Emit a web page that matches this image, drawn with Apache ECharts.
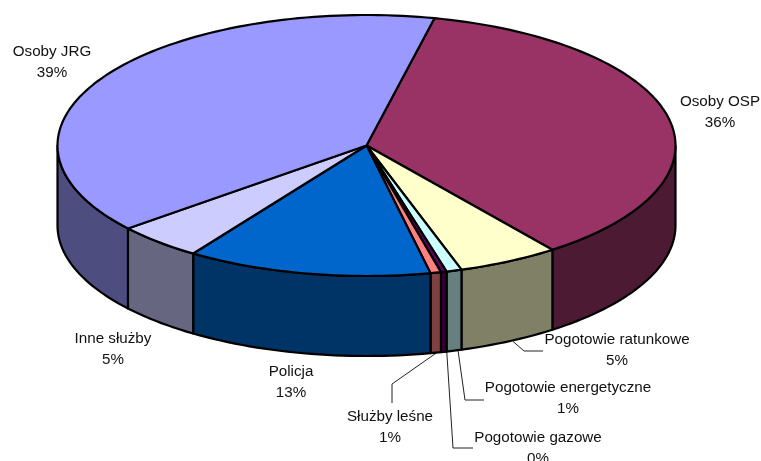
<!DOCTYPE html>
<html>
<head>
<meta charset="utf-8">
<style>html,body{margin:0;padding:0;background:#fff}#c{width:761px;height:461px}</style>
<script src="https://cdn.jsdelivr.net/npm/echarts@6/dist/echarts.min.js"></script>
</head>
<body>
<div id="c"></div>
<script>
// Data, clockwise from the start angle
const categories = ['Osoby OSP','Pogotowie ratunkowe','Pogotowie energetyczne','Pogotowie gazowe','Służby leśne','Policja','Inne służby','Osoby JRG'];
const values = [36.2, 5.3, 0.8, 0.3, 0.55, 12.8, 4.56, 39.49];
const topColors = ['#993366','#FFFFCC','#CCFFFF','#660066','#FF8080','#0066CC','#CCCCFF','#9999FF'];
const wallColors = ['#4D1A33','#808066','#668080','#330033','#804040','#003366','#666680','#4D4D80'];

// Layout
const CX = 366.5, CY = 145.5, RX = 309, RY = 130.5, DEPTH = 80, START = 12.7;
const FONT = '"Liberation Sans", Arial, sans-serif';
const labelPos = [[720,112],[617,350],[568,398],[538,448],[390,427],[291,382],[113,349],[52,62]];
const leaderStartShift = [0,4,4,3,1,0,0,0];
const leaders = [null,[[524,351],[543,351]],[[465,400],[484,400]],[[453,448],[473,448]],[[392,384],[392,403]],null,null,null];

const total = values.reduce((a,b)=>a+b,0);
const pt = (deg, dy) => {
  const r = deg*Math.PI/180;
  return [CX + RX*Math.sin(r), CY - RY*Math.cos(r) + (dy||0)];
};
const arc = (a, b, dy) => {
  const n = Math.max(2, Math.ceil(Math.abs(b-a)/1.5)), out = [];
  for (let i=0;i<=n;i++) out.push(pt(a+(b-a)*i/n, dy));
  return out;
};

function renderItem(params, api) {
  const i = params.dataIndex;
  let before = 0;
  for (let k=0;k<i;k++) before += values[k];
  const a0 = START + before/total*360;
  const a1 = a0 + api.value(1)/total*360;
  const kids = [];
  const line = {stroke:'#000', lineWidth:2.2, lineJoin:'round'};
  // front wall: only the part between 90 and 270 degrees
  const w0 = Math.max(a0, 90), w1 = Math.min(a1, 270);
  if (w1 > w0) {
    const front = arc(w0, w1, 0), back = arc(w1, w0, DEPTH);
    kids.push({type:'polygon', z2:1, shape:{points:front.concat(back)},
      style:Object.assign({fill:wallColors[i]}, line)});
  }
  // top face
  kids.push({type:'polygon', z2:2, shape:{points:[[CX,CY]].concat(arc(a0,a1,0))},
    style:Object.assign({fill:topColors[i]}, line)});
  // label
  const pct = Math.round(api.value(1)/total*100);
  kids.push({type:'text', z2:4, style:{x:labelPos[i][0], y:labelPos[i][1],
    text:categories[i]+'\n'+pct+'%', align:'center', verticalAlign:'middle',
    fontFamily:FONT, fontSize:15.2, lineHeight:21, fill:'#111'}});
  // leader line
  if (leaders[i]) {
    const s = pt((a0+a1)/2, DEPTH);
    const start = [s[0]+leaderStartShift[i], s[1]];
    kids.push({type:'polyline', z2:0, shape:{points:[start].concat(leaders[i])},
      style:{stroke:'#222', lineWidth:1, fill:null}});
  }
  return {type:'group', children:kids};
}

const chart = echarts.init(document.getElementById('c'), null, {renderer:'canvas'});
chart.setOption({
  animation:false,
  backgroundColor:'#fff',
  series:[{
    type:'custom',
    coordinateSystem:'none',
    silent:true,
    renderItem,
    data:categories.map((c,i)=>[i, values[i]])
  }]
});
</script>
</body>
</html>
